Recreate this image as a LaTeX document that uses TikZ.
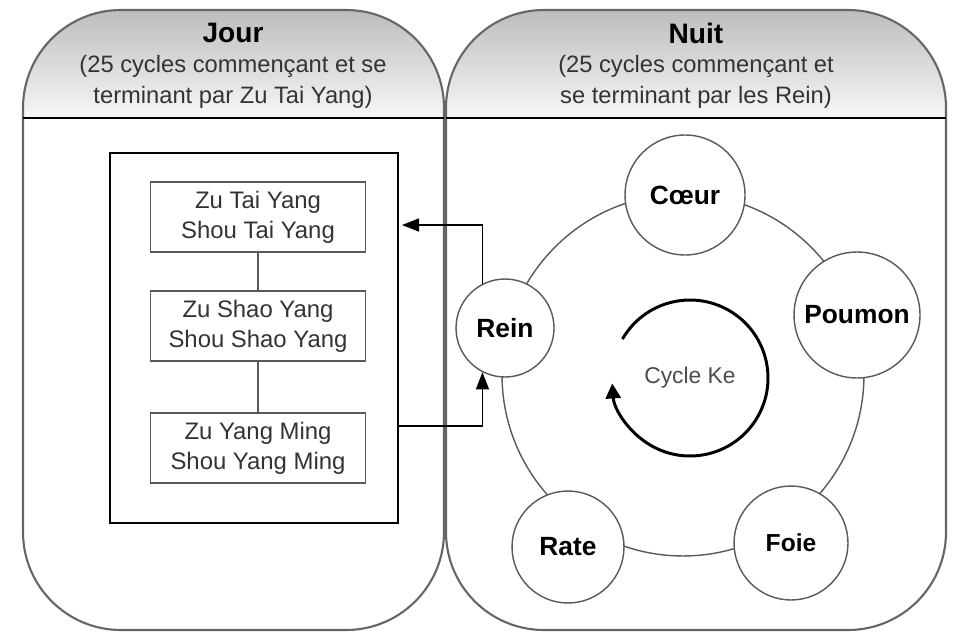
\documentclass[tikz,border=0pt]{standalone}
\usepackage{fontspec}
\setmainfont{Liberation Sans}
\usetikzlibrary{arrows.meta}

\begin{document}
\begin{tikzpicture}[x = 0.02cm, y = 0.02cm, line width = 0.8pt,
                        panel/.style = {draw = black!60, line width = 1.2pt, rounded corners = 1.96cm},
                        head/.style = {top color = black!26, bottom color = black!3},
                        title/.style = {font = \fontsize{16}{19}\selectfont\bfseries},
                        subtitle/.style = {align = center, text = black!80, font = \fontsize{13.5}{17.6}\selectfont},
                        meridian/.style = {draw = black!65, line width = 1pt, minimum width = 4.3cm, minimum height = 1.4cm,
                                           align = center, text = black!80, font = \fontsize{13.6}{17}\selectfont},
                        organ/.style = {circle, draw = black!65, fill = white, inner sep = 0pt,
                                        font = \fontsize{15}{18}\selectfont\bfseries},
                        link/.style = {-{Triangle[length = 3.4mm, width = 2.6mm]}, line width = 0.8pt}]
      \useasboundingbox (0, 0) rectangle (955, -632);
      \begin{scope}
        \clip [rounded corners = 1.96cm] (23, -10) rectangle (444, -630);
        \shade [head] (23, -10) rectangle (444, -118);
      \end{scope}
      \begin{scope}
        \clip [rounded corners = 1.96cm] (446, -10) rectangle (946, -630);
        \shade [head] (446, -10) rectangle (946, -118);
      \end{scope}
      \draw [panel] (23, -10) rectangle (444, -630);
      \draw [panel] (446, -10) rectangle (946, -630);
      \draw [line width = 1.6pt] (23, -118) -- (444, -118);
      \draw [line width = 1.6pt] (446, -118) -- (946, -118);
      \node [title] (jour) at (233, -33) {Jour};
      \node [subtitle] (jourtxt) at (233, -82) {(25 cycles commençant et se\\terminant par Zu Tai Yang)};
      \node [title] (nuit) at (696, -33) {Nuit};
      \node [subtitle] (nuittxt) at (696, -82) {(25 cycles commençant et\\se terminant par les Rein)};
      \node [draw, line width = 1pt, minimum width = 5.76cm, minimum height = 7.4cm] (day) at (254, -338){};
      \node [meridian] (m1) at (258, -217){Zu Tai Yang\\Shou Tai Yang};
      \node [meridian] (m2) at (258, -326){Zu Shao Yang\\Shou Shao Yang};
      \node [meridian] (m3) at (258, -448){Zu Yang Ming\\Shou Yang Ming};
      \draw [draw = black!65, line width = 1pt] (m1) -- (m2);
      \draw [draw = black!65, line width = 1pt] (m2) -- (m3);
      \draw [draw = black!65] (683, -375) circle (3.62cm);
      \node [organ, minimum size = 2.4cm] (coeur) at (685, -195){Cœur};
      \node [organ, minimum size = 2.52cm] (poumon) at (857, -315){Poumon};
      \node [organ, minimum size = 1.96cm] (rein) at (505, -328){Rein};
      \node [organ, minimum size = 2.24cm] (rate) at (568, -547){Rate};
      \node [organ, minimum size = 2.28cm, font = \fontsize{14}{17}\selectfont\bfseries] (foie) at (791, -543){Foie};
      \node [text = black!70, font = \fontsize{13}{16}\selectfont] (ke) at (690, -378){Cycle Ke};
      \draw [line width = 1.7pt, -{Triangle[length = 3mm, width = 3mm]}]
            ([shift = {(150:1.56cm)}]ke.center) arc [start angle = 150, end angle = -176, radius = 1.56cm];
      \coordinate (in1) at (402, -225);
      \coordinate (out1) at (day.east |- 0, -426);
      \draw [link] (rein.117) |- (in1);
      \draw [link] (out1) -| (rein.-117);
    \end{tikzpicture}
\end{document}
